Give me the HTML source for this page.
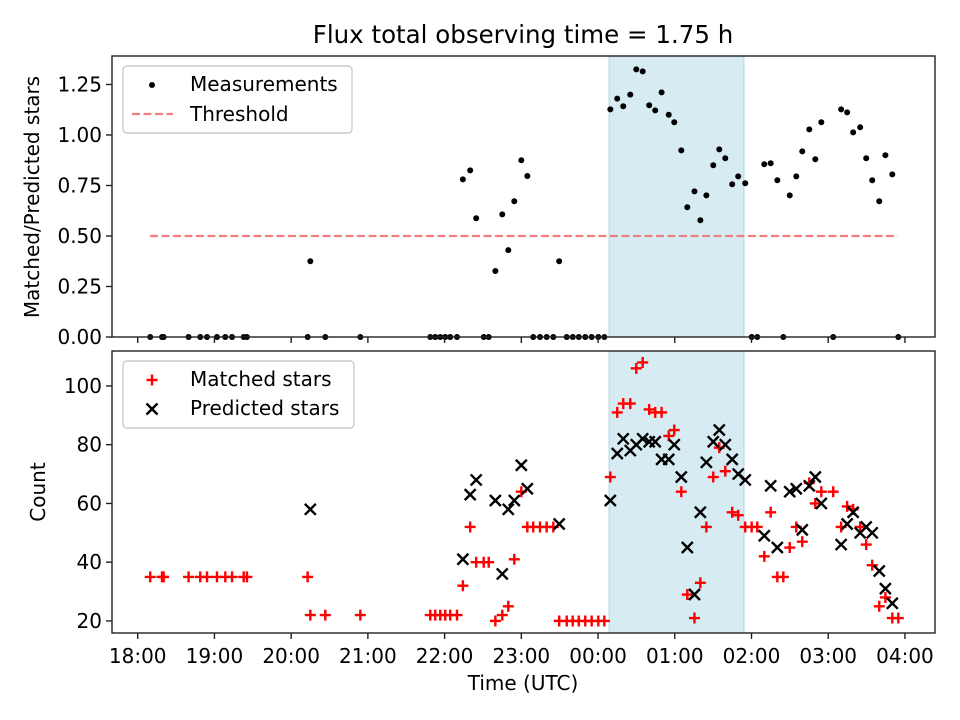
<!DOCTYPE html>
<html><head><meta charset="utf-8"><style>
body{margin:0;background:#fff}
svg{display:block;font-family:"DejaVu Sans","Liberation Sans",sans-serif}
</style></head><body>
<svg id="chart" width="960" height="720" viewBox="0 0 960 720"></svg>
<script>
// minutes since 18:00 UTC
const times=[9.8,19.0,20.3,39.8,48.9,54.2,62.0,68.5,73.8,82.9,85.4,132.9,135.0,146.7,174.1,228.8,232.7,236.6,240.5,244.4,249.7,254.3,260.0,264.7,270.6,274.5,279.7,285.1,289.8,294.5,300.0,304.7,309.3,314.6,319.8,325.0,329.6,335.5,340.2,344.9,350.0,355.0,360.2,364.9,369.6,375.0,379.7,385.2,389.9,394.9,400.0,404.7,409.7,415.3,419.6,425.1,429.8,435.4,440.0,444.7,450.1,454.8,459.5,464.9,469.6,475.1,480.1,484.5,490.0,495.0,500.2,504.9,509.9,515.0,519.7,525.2,529.9,534.6,543.9,550.1,554.8,559.5,565.0,569.7,574.4,579.9,584.7,590.1,594.8];
const ratios=[0,0,0,0,0,0,0,0,0,0,0,0,0.375,0,0,0,0,0,0,0,0,0.78,0.825,0.588,0,0,0.327,0.607,0.43,0.672,0.875,0.797,0,0,0,0,0.375,0,0,0,0,0,0,0,1.127,1.18,1.142,1.2,1.325,1.315,1.147,1.122,1.211,1.1,1.063,0.924,0.642,0.721,0.578,0.701,0.85,0.929,0.885,0.756,0.795,0.761,0,0,0.855,0.86,0.776,0,0.701,0.795,0.919,1.028,0.88,1.063,0,1.127,1.112,1.013,1.038,0.885,0.776,0.672,0.9,0.805,0];
const matched=[35,35,35,35,35,35,35,35,35,35,35,35,22,22,22,22,22,22,22,22,22,32,52,40,40,40,20,22,25,41,64,52,52,52,52,52,20,20,20,20,20,20,20,20,69,91,94,94,106,108,92,91,91,83,85,64,29,21,33,52,69,79,71,57,56,52,52,52,42,57,35,35,45,52,47,67,60,64,64,52,59,58,52,46,39,25,28,21,21];
const predicted=[null,null,null,null,null,null,null,null,null,null,null,null,58,null,null,null,null,null,null,null,null,41,63,68,null,null,61,36,58,61,73,65,null,null,null,null,53,null,null,null,null,null,null,null,61,77,82,78,80,82,81,81,75,75,80,69,45,29,57,74,81,85,80,75,70,68,null,null,49,66,45,null,64,65,51,66,69,60,null,46,53,57,50,52,50,37,31,26,null];
const threshold=[0.5];
const thresholdRange=[9.6,594.5];
const shadeRange=[368.6,474.1];
const xTickVals=[0,60,120,180,240,300,360,420,480,540,600];
const xTickLabels=["18:00","19:00","20:00","21:00","22:00","23:00","00:00","01:00","02:00","03:00","04:00"];
const topTicks=[0,0.25,0.5,0.75,1.0,1.25];
const topTickLabels=["0.00","0.25","0.50","0.75","1.00","1.25"];
const botTicks=[20,40,60,80,100];

const NS="http://www.w3.org/2000/svg";
const svg=document.getElementById('chart');
function mk(tag,attrs,parent){const e=document.createElementNS(NS,tag);for(const k in attrs)e.setAttribute(k,attrs[k]);(parent||svg).appendChild(e);return e;}
const L=112,R=935,T1=56,B1=337,T2=351,B2=633;
const xMin=-20.1,xMax=623.5;
const x=m=>L+(m-xMin)/(xMax-xMin)*(R-L);
const yTop=v=>B1-v/1.391*(B1-T1);
const bMin=15.9,bMax=111.9;
const yBot=v=>B2-(v-bMin)/(bMax-bMin)*(B2-T2);
const FS=20;

let t=mk('text',{x:523,y:43,'text-anchor':'middle','font-size':'24.5'});t.textContent="Flux total observing time = 1.75 h";



[[T1,B1,'top-shade'],[T2,B2,'bottom-shade']].forEach(([a,b,n])=>{
 const r=mk('rect',{x:x(shadeRange[0]),y:a,width:x(shadeRange[1])-x(shadeRange[0]),height:b-a,fill:'#add8e6','fill-opacity':0.5,stroke:'#add8e6','stroke-width':1});
 
 
});

const th=mk('line',{x1:x(thresholdRange[0]),x2:x(thresholdRange[1]),y1:yTop(threshold[0]),y2:yTop(threshold[0]),stroke:'#f08080','stroke-width':2.2,'stroke-dasharray':'8,3.5'});



times.forEach((m,i)=>{
 const c=mk('circle',{cx:x(m),cy:yTop(ratios[i]),r:3,fill:'#000'});
 
 
});

function plus(cx,cy,col){return mk('path',{d:`M${cx-5.5},${cy}H${cx+5.5}M${cx},${cy-5.5}V${cy+5.5}`,stroke:col,'stroke-width':2.4,fill:'none'});}
function cross(cx,cy,col){return mk('path',{d:`M${cx-5.5},${cy-5.5}L${cx+5.5},${cy+5.5}M${cx-5.5},${cy+5.5}L${cx+5.5},${cy-5.5}`,stroke:col,'stroke-width':2.4,fill:'none'});}
times.forEach((m,i)=>{
 const p=plus(x(m),yBot(matched[i]),'#ff0000');
 
 
});
times.forEach((m,i)=>{
 if(predicted[i]===null)return;
 const p=cross(x(m),yBot(predicted[i]),'#000');
 
 
});

[[T1,B1,'top-axes-frame'],[T2,B2,'bottom-axes-frame']].forEach(([a,b,n])=>{
 const r=mk('rect',{x:L,y:a,width:R-L,height:b-a,fill:'none',stroke:'#222','stroke-width':1.4});
 
 
});

xTickVals.forEach((v,i)=>{
 [B1,B2].forEach(b=>{const l=mk('line',{x1:x(v),x2:x(v),y1:b,y2:b+6,stroke:'#222','stroke-width':1.4});
 
 });
 const tx=mk('text',{x:x(v),y:663,'text-anchor':'middle','font-size':FS});tx.textContent=xTickLabels[i];
 
 
});
topTicks.forEach((v,i)=>{
 const l=mk('line',{x1:L-6,x2:L,y1:yTop(v),y2:yTop(v),stroke:'#222','stroke-width':1.4});
 
 
 const tx=mk('text',{x:L-10,y:yTop(v)+7,'text-anchor':'end','font-size':FS});tx.textContent=topTickLabels[i];
 
 
});
botTicks.forEach(v=>{
 const l=mk('line',{x1:L-6,x2:L,y1:yBot(v),y2:yBot(v),stroke:'#222','stroke-width':1.4});
 
 
 const tx=mk('text',{x:L-10,y:yBot(v)+7,'text-anchor':'end','font-size':FS});tx.textContent=String(v);
 
 
});
let yl=mk('text',{x:0,y:0,transform:'translate(39,197) rotate(-90)','text-anchor':'middle','font-size':FS});yl.textContent="Matched/Predicted stars";


let yl2=mk('text',{x:0,y:0,transform:'translate(45,492) rotate(-90)','text-anchor':'middle','font-size':FS});yl2.textContent="Count";


let xl=mk('text',{x:523,y:690,'text-anchor':'middle','font-size':FS});xl.textContent="Time (UTC)";



const lg1=mk('rect',{x:123,y:66,width:229,height:67,rx:4,fill:'#fff','fill-opacity':0.8,stroke:'#ccc','stroke-width':1.4});


const ld=mk('circle',{cx:152,cy:85,r:3,fill:'#000'});


let lt=mk('text',{x:190,y:91,'font-size':FS});lt.textContent="Measurements";


const ll=mk('line',{x1:132,x2:173,y1:114,y2:114,stroke:'#f08080','stroke-width':2.2,'stroke-dasharray':'8,3.5'});


lt=mk('text',{x:190,y:121,'font-size':FS});lt.textContent="Threshold";



const lg2=mk('rect',{x:123,y:361,width:231,height:67,rx:4,fill:'#fff','fill-opacity':0.8,stroke:'#ccc','stroke-width':1.4});


let pm=plus(152,380,'#ff0000');


lt=mk('text',{x:190,y:386,'font-size':FS});lt.textContent="Matched stars";


pm=cross(152,409,'#000');


lt=mk('text',{x:190,y:415,'font-size':FS});lt.textContent="Predicted stars";


</script>
</body></html>
